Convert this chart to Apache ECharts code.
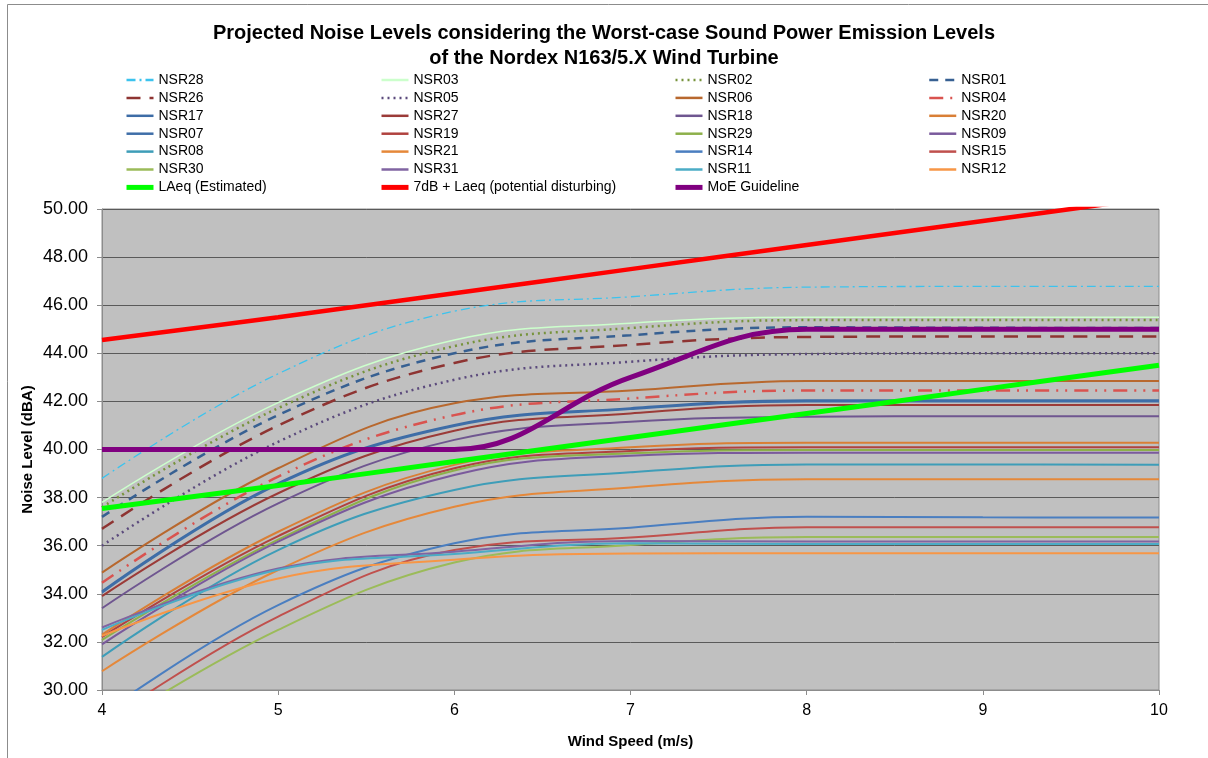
<!DOCTYPE html>
<html>
<head>
<meta charset="utf-8">
<title>Projected Noise Levels</title>
<script src="https://cdn.jsdelivr.net/npm/echarts@6/dist/echarts.min.js"></script>
<style>
  html, body { margin: 0; padding: 0; background: #fff; }
  #chart { width: 1208px; height: 758px; }
</style>
</head>
<body>
<div id="chart"></div>
<script>
// x axis: wind speed (m/s)
const windSpeeds = [4, 5, 6, 7, 8, 9, 10]

// receptor noise levels (dBA), one value per wind speed
const nsr28 = [38.8, 43.15, 45.75, 46.35, 46.75, 46.78, 46.78]
const nsr03 = [37.8, 41.95, 44.55, 45.25, 45.5, 45.5, 45.5]
const nsr02 = [37.6, 41.72, 44.3, 45.05, 45.38, 45.38, 45.38]
const nsr01 = [37.2, 41.43, 44.0, 44.75, 45.08, 45.06, 45.05]
const nsr26 = [36.7, 41.0, 43.6, 44.35, 44.68, 44.7, 44.7]
const nsr05 = [36.0, 40.32, 42.9, 43.65, 43.97, 44.0, 44.0]
const nsr06 = [34.88, 39.22, 41.92, 42.45, 42.85, 42.85, 42.85]
const nsr04 = [34.46, 38.87, 41.43, 42.12, 42.45, 42.45, 42.45]
const nsr17 = [34.1, 38.6, 41.02, 41.72, 42.05, 42.05, 42.05]
const nsr27 = [33.9, 38.18, 40.78, 41.5, 41.85, 41.85, 41.85]
const nsr18 = [33.4, 37.76, 40.4, 41.15, 41.36, 41.38, 41.38]
const nsr20 = [32.3, 36.58, 39.36, 40.09, 40.28, 40.28, 40.28]
const nsr07 = [34.05, 38.55, 40.98, 41.68, 42.0, 42.0, 42.0]
const nsr19 = [32.2, 36.4, 39.22, 39.94, 40.09, 40.09, 40.09]
const nsr29 = [32.08, 36.25, 39.13, 39.84, 39.98, 39.98, 39.98]
const nsr09 = [31.9, 36.17, 38.94, 39.74, 39.87, 39.87, 39.87]
const nsr08 = [31.38, 35.82, 38.32, 39.05, 39.38, 39.38, 39.37]
const nsr21 = [30.78, 34.99, 37.62, 38.42, 38.76, 38.76, 38.76]
const nsr14 = [29.0, 33.53, 36.1, 36.75, 37.2, 37.18, 37.17]
const nsr15 = [28.6, 33.05, 35.82, 36.34, 36.77, 36.77, 36.77]
const nsr30 = [28.3, 32.5, 35.3, 36.03, 36.36, 36.36, 36.36]
const nsr31 = [32.6, 35.05, 35.75, 36.2, 36.17, 36.17, 36.17]
const nsr11 = [32.5, 35.0, 35.65, 36.1, 36.07, 36.07, 36.07]
const nsr12 = [32.25, 34.64, 35.42, 35.68, 35.69, 35.69, 35.69]

// reference curves
const laeq = [37.55, 38.5, 39.5, 40.5, 41.5, 42.5, 43.5]
const laeqPlus7 = [44.55, 45.5, 46.5, 47.5, 48.5, 49.5, 50.5]
const moeGuideline = [40, 40, 40, 43, 45, 45, 45]

// y axis range / ticks
const yMin = 30
const yMax = 50
const yStep = 2

// legend columns (Excel lays the legend out in 4 columns)
const legendColumns = [
  ['NSR28', 'NSR26', 'NSR17', 'NSR07', 'NSR08', 'NSR30', 'LAeq (Estimated)'],
  ['NSR03', 'NSR05', 'NSR27', 'NSR19', 'NSR21', 'NSR31', '7dB + Laeq (potential disturbing)'],
  ['NSR02', 'NSR06', 'NSR18', 'NSR29', 'NSR14', 'NSR11', 'MoE Guideline'],
  ['NSR01', 'NSR04', 'NSR20', 'NSR09', 'NSR15', 'NSR12']
]
const legendLeft = [124, 379, 673, 928]

// series in drawing order, with their look
const seriesDefs = [
  { name: 'NSR28', values: nsr28, color: '#3cc3ee', width: 1.3, type: [9, 4, 2, 4] },
  { name: 'NSR03', values: nsr03, color: '#ccffcc', width: 1.5 },
  { name: 'NSR02', values: nsr02, color: '#77933c', width: 2.5, type: [2, 4] },
  { name: 'NSR01', values: nsr01, color: '#376092', width: 2.5, type: [9, 7] },
  { name: 'NSR26', values: nsr26, color: '#8e3432', width: 2.5, type: [14, 9] },
  { name: 'NSR05', values: nsr05, color: '#5b4a7c', width: 2.5, type: [2, 4] },
  { name: 'NSR06', values: nsr06, color: '#b8682e', width: 2 },
  { name: 'NSR04', values: nsr04, color: '#d9534f', width: 2.5, type: [14, 7, 2, 7, 2, 7] },
  { name: 'NSR17', values: nsr17, color: '#3d6ca6', width: 2 },
  { name: 'NSR27', values: nsr27, color: '#9b3b38', width: 2 },
  { name: 'NSR18', values: nsr18, color: '#6f5690', width: 2 },
  { name: 'NSR20', values: nsr20, color: '#d97f36', width: 2 },
  { name: 'NSR07', values: nsr07, color: '#3f6ea8', width: 2 },
  { name: 'NSR19', values: nsr19, color: '#b0423f', width: 2 },
  { name: 'NSR29', values: nsr29, color: '#8db04a', width: 2 },
  { name: 'NSR09', values: nsr09, color: '#7a5a9c', width: 2 },
  { name: 'NSR08', values: nsr08, color: '#3e9db8', width: 2 },
  { name: 'NSR21', values: nsr21, color: '#e5883a', width: 2 },
  { name: 'NSR14', values: nsr14, color: '#4a7ec0', width: 2 },
  { name: 'NSR15', values: nsr15, color: '#c0504d', width: 2 },
  { name: 'NSR30', values: nsr30, color: '#9bbb59', width: 2 },
  { name: 'NSR31', values: nsr31, color: '#8064a2', width: 2 },
  { name: 'NSR11', values: nsr11, color: '#4bacc6', width: 2 },
  { name: 'NSR12', values: nsr12, color: '#f79646', width: 2 },
  { name: 'LAeq (Estimated)', values: laeq, color: '#00ff00', width: 5 },
  { name: '7dB + Laeq (potential disturbing)', values: laeqPlus7, color: '#ff0000', width: 4.5 },
  { name: 'MoE Guideline', values: moeGuideline, color: '#800080', width: 5 }
]

const font = 'Liberation Sans, Arial, sans-serif'

// legend icons: the legend would draw every line 2px wide, so give the width explicitly
function legendItem(name) {
  const d = seriesDefs.find(s => s.name === name)
  const w = d.width >= 4 ? 5 : (d.type ? 2.5 : Math.max(d.width, 2.5))
  return { name, lineStyle: { width: w } }
}

const chart = echarts.init(document.getElementById('chart'), null, { renderer: 'canvas' })

const option = {
  animation: false,
  backgroundColor: '#fff',
  title: {
    text: 'Projected Noise Levels considering the Worst-case Sound Power Emission Levels\nof the Nordex N163/5.X Wind Turbine',
    left: 'center',
    top: 16,
    textStyle: { fontFamily: font, fontSize: 20, fontWeight: 'bold', color: '#000', lineHeight: 25 }
  },
  // one vertical legend per column, line only (no marker)
  legend: legendColumns.map((names, i) => ({
    orient: 'vertical',
    left: legendLeft[i],
    top: 73,
    padding: 0,
    itemWidth: 27,
    itemHeight: 14,
    itemGap: 3.9,
    selectedMode: false,
    itemStyle: { opacity: 0 },
    data: names.map(legendItem),
    textStyle: { fontFamily: font, fontSize: 14, color: '#000', lineHeight: 14 }
  })),
  grid: {
    left: 102,
    right: 49,
    top: 209,
    bottom: 68,
    show: true,
    backgroundColor: '#c0c0c0',
    borderColor: '#8c8c8c',
    borderWidth: 1
  },
  xAxis: {
    type: 'value',
    min: 4,
    max: 10,
    interval: 1,
    name: 'Wind Speed (m/s)',
    nameLocation: 'middle',
    nameGap: 44,
    nameTextStyle: { fontFamily: font, fontSize: 15, fontWeight: 'bold', color: '#000' },
    axisLine: { lineStyle: { color: '#8c8c8c', width: 1 } },
    axisTick: { show: true, length: 5, lineStyle: { color: '#8c8c8c' } },
    axisLabel: { fontFamily: font, fontSize: 16, color: '#000', margin: 13 },
    splitLine: { show: false }
  },
  yAxis: {
    type: 'value',
    min: yMin,
    max: yMax,
    interval: yStep,
    name: 'Noise Level (dBA)',
    nameLocation: 'middle',
    nameGap: 67,
    nameMoveOverlap: false,
    nameTextStyle: { fontFamily: font, fontSize: 15, fontWeight: 'bold', color: '#000' },
    axisLine: { show: true, lineStyle: { color: '#8c8c8c', width: 1 } },
    axisTick: { show: true, length: 5, lineStyle: { color: '#8c8c8c' } },
    axisLabel: {
      fontFamily: font,
      fontSize: 18,
      color: '#000',
      margin: 14,
      formatter: v => v.toFixed(2)
    },
    splitLine: { show: true, lineStyle: { color: '#5a5a5a', width: 1 } }
  },
  // thin frame round the whole chart area
  graphic: [{
    type: 'rect',
    silent: true,
    shape: { x: 7.5, y: 4.5, width: 1300, height: 1000 },
    style: { fill: null, stroke: '#8c8c8c', lineWidth: 1 }
  }],
  series: seriesDefs.map(d => ({
    name: d.name,
    type: 'line',
    data: windSpeeds.map((w, i) => [w, d.values[i]]),
    smooth: 0.4,
    symbol: 'none',
    clip: true,
    color: d.color,
    lineStyle: { color: d.color, width: d.width, type: d.type || 'solid' }
  }))
}

chart.setOption(option)
</script>
</body>
</html>
